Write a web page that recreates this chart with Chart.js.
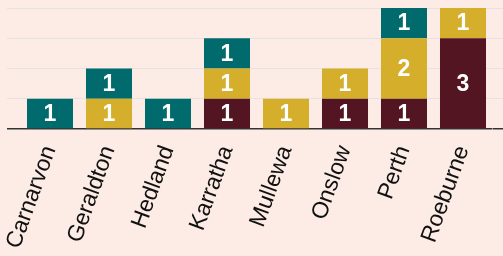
<!DOCTYPE html>
<html>

<head>
    <script src="https://cdn.jsdelivr.net/npm/chart.js@4.4.1/dist/chart.umd.min.js"></script>
    <style>
        body { margin: 0; background: #fcece5; }
        #wrap { width: 503px; height: 256px; }
    </style>
</head>

<body>
    <div id="wrap"><canvas id="myChart"></canvas></div>

    <script>
        // towns along the x axis
        var towns = ["Carnarvon", "Geraldton", "Hedland", "Karratha", "Mullewa", "Onslow", "Perth", "Roeburne"];
        // counts per colour, bottom of the stack first (null = nothing)
        var maroonVals = [null, null, null, 1, null, 1, 1, 3];
        var goldVals = [null, 1, null, 1, 1, 1, 2, 1];
        var tealVals = [1, 1, 1, 1, null, null, 1, null];
        var yMax = 4;

        var bg = "#fcece5";
        var gridCol = "#e5e2e1";

        // paints the page colour under the chart
        var bgPlugin = {
            id: "bg",
            beforeDraw: function (chart) {
                var c = chart.ctx;
                c.save();
                c.fillStyle = bg;
                c.fillRect(0, 0, chart.width, chart.height);
                c.restore();
            }
        };

        // white count in the middle of every segment
        var valuePlugin = {
            id: "vals",
            afterDatasetsDraw: function (chart) {
                var c = chart.ctx;
                c.save();
                c.fillStyle = "#ffffff";
                c.font = "bold 23px 'Liberation Sans', Arial, sans-serif";
                c.textAlign = "center";
                c.textBaseline = "middle";
                chart.data.datasets.forEach(function (ds, i) {
                    var meta = chart.getDatasetMeta(i);
                    meta.data.forEach(function (bar, j) {
                        var v = ds.data[j];
                        if (v == null) return;
                        c.fillText(v, bar.x, (bar.y + bar.base) / 2 + 1);
                    });
                });
                c.restore();
            }
        };

        function gridColor(ctx) {
            return ctx.tick && ctx.tick.value === 0 ? "#333333" : gridCol;
        }
        function gridWidth(ctx) {
            return ctx.tick && ctx.tick.value === 0 ? 1.5 : 1;
        }

        new Chart("myChart", {
            type: "bar",
            data: {
                labels: towns,
                datasets: [
                    { data: maroonVals, backgroundColor: "#531521" },
                    { data: goldVals, backgroundColor: "#d5af2c" },
                    { data: tealVals, backgroundColor: "#006a6d" }
                ]
            },
            plugins: [bgPlugin, valuePlugin],
            options: {
                responsive: true,
                maintainAspectRatio: false,
                animation: false,
                layout: { padding: { left: 7, right: 0, top: 8, bottom: 0 } },
                plugins: {
                    legend: { display: false },
                    tooltip: { enabled: false }
                },
                datasets: {
                    bar: { categoryPercentage: 1, barPercentage: 0.78, borderWidth: 0 }
                },
                scales: {
                    x: {
                        stacked: true,
                        grid: { display: false },
                        border: { display: false },
                        ticks: {
                            minRotation: 70,
                            maxRotation: 70,
                            autoSkip: false,
                            padding: 5,
                            color: "#111111",
                            font: { size: 23, family: "'Liberation Sans', Arial, sans-serif" }
                        },
                        afterFit: function (s) { s.height = 127; }
                    },
                    y: {
                        stacked: true,
                        min: 0,
                        max: yMax,
                        ticks: { display: false, stepSize: 1 },
                        border: { display: false },
                        grid: { color: gridColor, lineWidth: gridWidth, tickLength: 13.5 },
                        afterFit: function (s) { s.width = 13.5; }
                    },
                    y2: {
                        position: "right",
                        display: true,
                        min: 0,
                        max: yMax,
                        ticks: { display: false, stepSize: 1 },
                        border: { display: false },
                        grid: { color: gridColor, lineWidth: gridWidth, tickLength: 10.5, drawOnChartArea: false },
                        afterFit: function (s) { s.width = 10.5; }
                    }
                }
            }
        });
    </script>
</body>

</html>
